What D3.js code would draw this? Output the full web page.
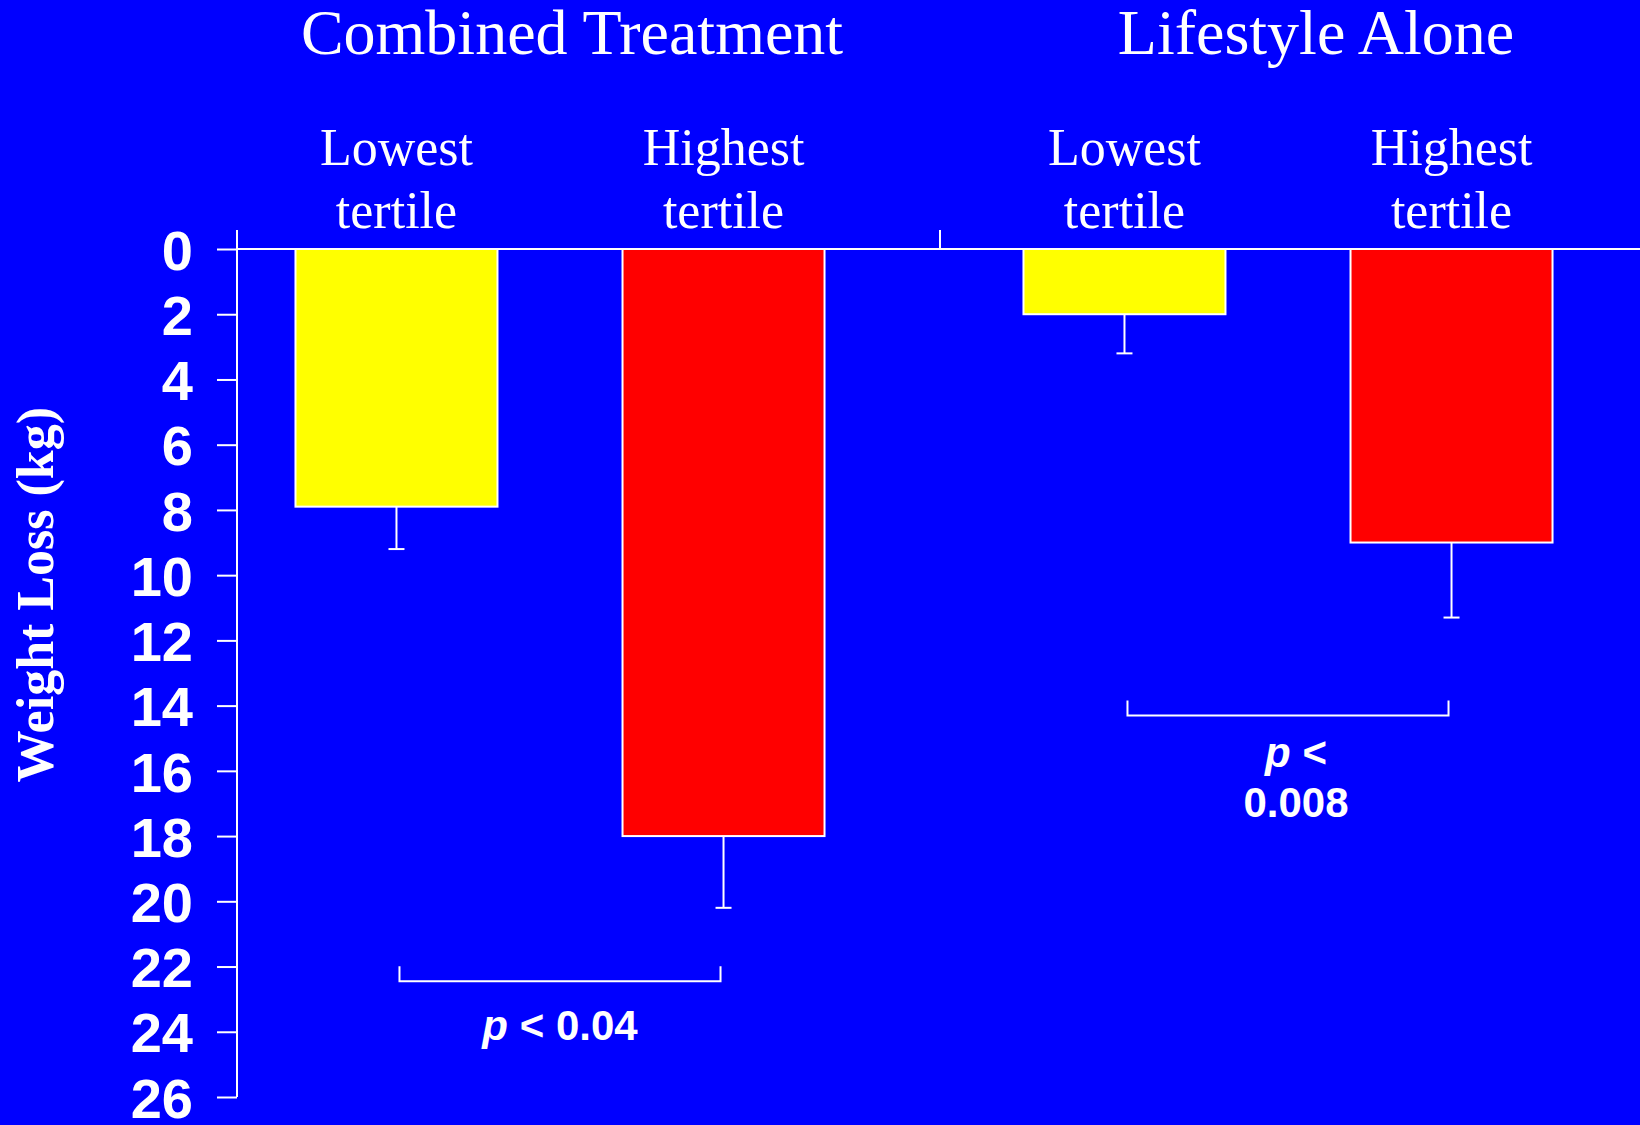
<!DOCTYPE html>
<html>
<head>
<meta charset="utf-8">
<script src="https://cdn.jsdelivr.net/npm/d3@7"></script>
<style>
  html, body { margin: 0; padding: 0; background: #0000ff; }
  svg { display: block; }
</style>
</head>
<body>
<figure style="margin:0"></figure>
<script>
// data
const groups     = ["Combined Treatment", "Lifestyle Alone"]
const tertiles   = ["Lowest tertile", "Highest tertile"]
const lossMeans  = {"Combined Treatment": [7.9, 18.0], "Lifestyle Alone": [2.0, 9.0]}
const lossErrors = {"Combined Treatment": [1.3, 2.2], "Lifestyle Alone": [1.2, 2.3]}
const pLabels    = {"Combined Treatment": ["p < 0.04"], "Lifestyle Alone": ["p <", "0.008"]}
const yTicks     = [0, 2, 4, 6, 8, 10, 12, 14, 16, 18, 20, 22, 24, 26]

const W = 1640, H = 1125
const serif = "'Liberation Serif', 'Times New Roman', serif",
      sans  = "'Liberation Sans', Arial, sans-serif"
const barFill = ["#ffff00", "#ff0000"]
const bracketAt = {"Combined Treatment": 22.45, "Lifestyle Alone": 14.3}

const figure = document.querySelector('figure')
const svg = d3.select(figure).append("svg")
    .attr("width", W)
    .attr("height", H)

svg.append("rect").attr("width", W).attr("height", H).attr("fill", "#0000ff")

const y = d3.scaleLinear().domain([0, 26]).range([249, 1097]),
      xGroup = d3.scaleBand().domain(groups).range([196, 1652]),
      xTert = d3.scalePoint().domain(tertiles).range([0, xGroup.bandwidth()]).padding(0.613),
      barW = 202,
      axisX = 237

const cx = (g, t) => xGroup(g) + xTert(t)

// y axis, values grow downward
const yAxis = svg.append("g")
    .attr("transform", "translate(" + axisX + ",0)")
    .call(d3.axisLeft(y).tickValues(yTicks).tickSize(20).tickPadding(24).tickSizeOuter(0))
yAxis.select(".domain").remove()
yAxis.selectAll(".tick line").attr("stroke", "#fff").attr("stroke-width", 2)
yAxis.selectAll(".tick text")
    .attr("fill", "#fff")
    .attr("font-family", sans)
    .attr("font-weight", "bold")
    .attr("font-size", 56)
    .attr("dy", "0.36em")

svg.append("line")
    .attr("x1", axisX).attr("x2", axisX)
    .attr("y1", y(0) - 19).attr("y2", y(26))
    .attr("stroke", "#fff").attr("stroke-width", 2)

// zero line across and the small mark between the two groups
svg.append("line")
    .attr("x1", axisX).attr("x2", W)
    .attr("y1", y(0)).attr("y2", y(0))
    .attr("stroke", "#fff").attr("stroke-width", 2)
svg.append("line")
    .attr("x1", xGroup(groups[1]) + 16).attr("x2", xGroup(groups[1]) + 16)
    .attr("y1", y(0) - 19).attr("y2", y(0))
    .attr("stroke", "#fff").attr("stroke-width", 2)

svg.append("text")
    .attr("transform", "translate(53," + y(10.6) + ") rotate(-90)")
    .attr("text-anchor", "middle")
    .attr("fill", "#fff")
    .attr("font-family", serif)
    .attr("font-weight", "bold")
    .attr("font-size", 52)
    .text("Weight Loss (kg)")

groups.forEach(g => {
  const gx = xGroup(g) + xGroup.bandwidth() / 2

  svg.append("text")
      .attr("x", gx + (g === groups[0] ? 12 : 28)).attr("y", 54)
      .attr("text-anchor", "middle")
      .attr("fill", "#fff")
      .attr("font-family", serif)
      .attr("font-size", 64)
      .text(g)

  tertiles.forEach((t, i) => {
    const x = cx(g, t), v = lossMeans[g][i], e = lossErrors[g][i]

    // label in two lines
    const lbl = svg.append("text")
        .attr("text-anchor", "middle")
        .attr("fill", "#fff")
        .attr("font-family", serif)
        .attr("font-size", 52)
    t.split(" ").forEach((w, k) => {
      lbl.append("tspan").attr("x", x).attr("y", 165 + k * 63).text(w)
    })

    svg.append("line")
        .attr("x1", x).attr("x2", x)
        .attr("y1", y(v)).attr("y2", y(v + e))
        .attr("stroke", "#fff").attr("stroke-width", 2)
    svg.append("line")
        .attr("x1", x - 8).attr("x2", x + 8)
        .attr("y1", y(v + e)).attr("y2", y(v + e))
        .attr("stroke", "#fff").attr("stroke-width", 2)

    svg.append("rect")
        .attr("x", x - barW / 2)
        .attr("y", y(0))
        .attr("width", barW)
        .attr("height", y(v) - y(0))
        .attr("fill", barFill[i])
        .attr("stroke", "#fff")
        .attr("stroke-width", 2)
  })

  // significance bracket
  const x0 = cx(g, tertiles[0]) + 3, x1 = cx(g, tertiles[1]) - 3, by = y(bracketAt[g])
  svg.append("path")
      .attr("d", "M" + x0 + "," + (by - 15) + "V" + by + "H" + x1 + "V" + (by - 15))
      .attr("fill", "none")
      .attr("stroke", "#fff").attr("stroke-width", 2)

  const lines = pLabels[g]
  const first = lines.length > 1 ? 52 : 59
  lines.forEach((l, k) => {
    const tx = svg.append("text")
        .attr("x", (x0 + x1) / 2 + (lines.length > 1 ? 8 : 0))
        .attr("y", by + first + k * 50)
        .attr("text-anchor", "middle")
        .attr("fill", "#fff")
        .attr("font-family", sans)
        .attr("font-weight", "bold")
        .attr("font-size", 42)
    if (l.startsWith("p")) {
      tx.append("tspan").attr("font-style", "italic").text("p")
      tx.append("tspan").text(l.slice(1))
    } else {
      tx.text(l)
    }
  })
})
</script>
</body>
</html>
